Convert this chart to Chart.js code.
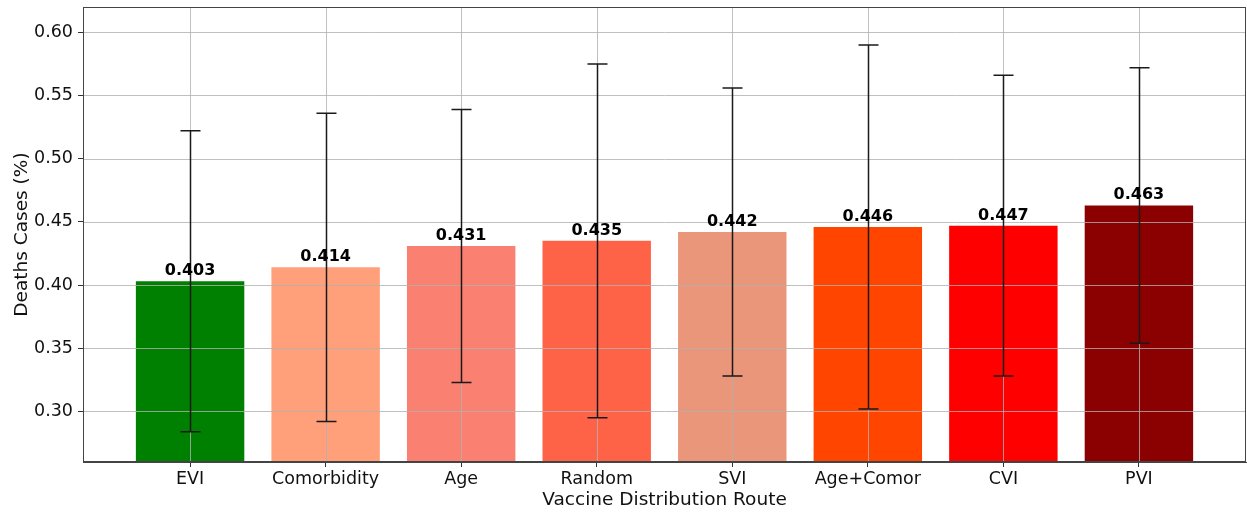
<!DOCTYPE html>
<html>
<head>
<meta charset="utf-8">
<script src="https://cdn.jsdelivr.net/npm/chart.js@4/dist/chart.umd.min.js"></script>
<style>
  html, body { margin: 0; padding: 0; background: #fff; }
  #wrap { width: 1247px; height: 514px; position: relative; }
</style>
</head>
<body>
<div id="wrap"><canvas id="chart"></canvas></div>
<script>
// data
const routes = ['EVI', 'Comorbidity', 'Age', 'Random', 'SVI', 'Age+Comor', 'CVI', 'PVI'];
const deaths = [0.403, 0.414, 0.431, 0.435, 0.442, 0.446, 0.447, 0.463];
const errors = [0.119, 0.122, 0.108, 0.140, 0.114, 0.144, 0.119, 0.109];
const barColors = ['#008000', '#FFA07A', '#FA8072', '#FF6347', '#E9967A', '#FF4500', '#FF0000', '#8B0000'];
const yTicks = [0.30, 0.35, 0.40, 0.45, 0.50, 0.55, 0.60];

const FONT = "'DejaVu Sans', sans-serif";

// grid over the bars, then error bars, value labels and the frame
const overlay = {
  id: 'overlay',
  afterDatasetsDraw(chart) {
    const ctx = chart.ctx;
    const area = chart.chartArea;
    const xs = chart.scales.x;
    const ys = chart.scales.y;

    ctx.save();
    ctx.strokeStyle = 'rgba(176,176,176,0.8)';
    ctx.lineWidth = 1;
    routes.forEach(function(r, i) {
      const px = Math.round(xs.getPixelForValue(i)) + 0.5;
      ctx.beginPath();
      ctx.moveTo(px, area.top);
      ctx.lineTo(px, area.bottom);
      ctx.stroke();
    });
    yTicks.forEach(function(t) {
      const py = Math.round(ys.getPixelForValue(t)) + 0.5;
      ctx.beginPath();
      ctx.moveTo(area.left, py);
      ctx.lineTo(area.right, py);
      ctx.stroke();
    });

    // error bars
    ctx.strokeStyle = '#1a1a1a';
    ctx.lineWidth = 1.5;
    deaths.forEach(function(v, i) {
      const px = Math.round(xs.getPixelForValue(i)) + 0.5;
      const top = ys.getPixelForValue(v + errors[i]);
      const bot = ys.getPixelForValue(v - errors[i]);
      ctx.beginPath();
      ctx.moveTo(px, top);
      ctx.lineTo(px, bot);
      ctx.moveTo(px - 10, top);
      ctx.lineTo(px + 10, top);
      ctx.moveTo(px - 10, bot);
      ctx.lineTo(px + 10, bot);
      ctx.stroke();
    });

    // value labels
    ctx.fillStyle = '#000';
    ctx.font = 'bold 16px ' + FONT;
    ctx.textAlign = 'center';
    ctx.textBaseline = 'alphabetic';
    const meta = chart.getDatasetMeta(0);
    meta.data.forEach(function(bar, i) {
      ctx.fillText(deaths[i].toFixed(3), bar.x, bar.y - 6);
    });

    // frame
    ctx.strokeStyle = '#444';
    ctx.lineWidth = 1;
    ctx.strokeRect(area.left + 0.5, area.top + 0.5, area.right - area.left - 1, area.bottom - area.top - 1);
    ctx.restore();
  }
};

new Chart(document.getElementById('chart'), {
  type: 'bar',
  data: {
    datasets: [{
      data: deaths.map(function(v, i) { return { x: i, y: v }; }),
      backgroundColor: barColors,
      borderWidth: 0,
      categoryPercentage: 0.8,
      barPercentage: 1.0
    }]
  },
  options: {
    responsive: true,
    maintainAspectRatio: false,
    animation: false,
    layout: { padding: { top: 7, right: 1, left: 0, bottom: 0 } },
    plugins: {
      legend: { display: false },
      tooltip: { enabled: false }
    },
    scales: {
      x: {
        type: 'linear',
        min: -0.79,
        max: 7.79,
        offset: false,
        afterBuildTicks: function(axis) {
          axis.ticks = routes.map(function(r, i) { return { value: i }; });
        },
        afterFit: function(axis) {
          axis.height = 52;
          axis.paddingLeft = 0;
          axis.paddingRight = 0;
        },
        grid: { drawOnChartArea: false, drawTicks: true, tickLength: 5, offset: false, color: '#333' },
        border: { display: true, color: '#444' },
        ticks: {
          autoSkip: false,
          maxRotation: 0,
          padding: 2,
          color: '#111',
          font: { family: FONT, size: 17.5 },
          callback: function(value) { return routes[value]; }
        },
        title: {
          display: true,
          text: 'Vaccine Distribution Route',
          color: '#111',
          font: { family: FONT, size: 18.5 },
          padding: { top: 0, bottom: 3 }
        }
      },
      y: {
        type: 'linear',
        min: 0.26,
        max: 0.62,
        afterBuildTicks: function(axis) {
          axis.ticks = yTicks.map(function(t) { return { value: t }; });
        },
        afterFit: function(axis) {
          axis.width = 83;
          axis.paddingTop = 0;
          axis.paddingBottom = 0;
        },
        grid: { drawOnChartArea: false, drawTicks: true, tickLength: 5, color: '#333' },
        border: { display: true, color: '#444' },
        ticks: {
          padding: 5,
          color: '#111',
          font: { family: FONT, size: 17.5 },
          callback: function(value) { return value.toFixed(2); }
        },
        title: {
          display: true,
          text: 'Deaths Cases (%)',
          color: '#111',
          font: { family: FONT, size: 18.5 },
          padding: { top: 11, bottom: 0 }
        }
      }
    }
  },
  plugins: [overlay]
});
</script>
</body>
</html>
